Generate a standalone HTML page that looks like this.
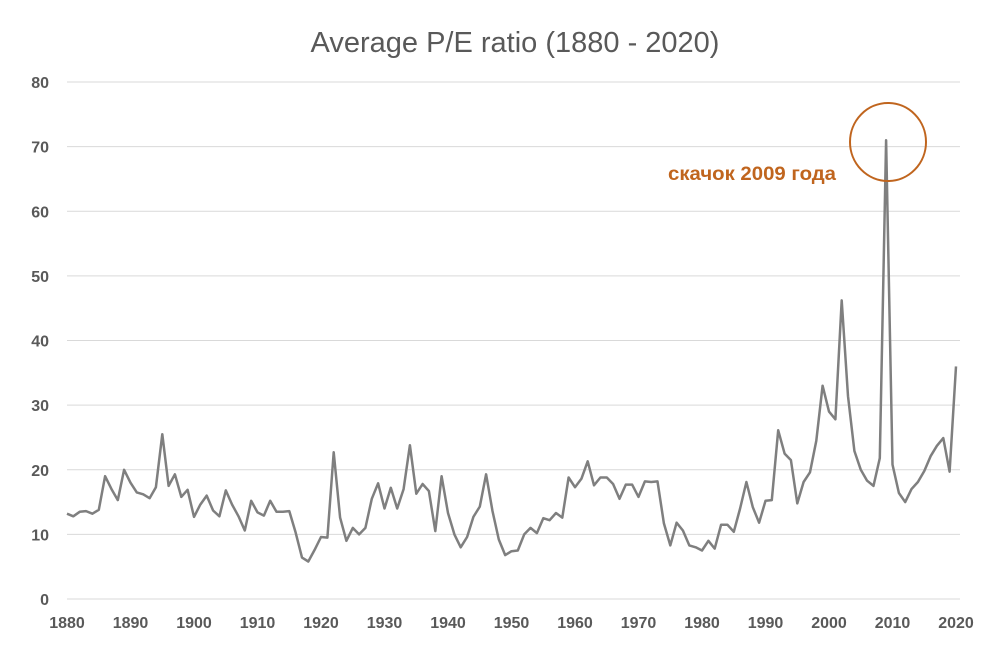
<!DOCTYPE html>
<html><head><meta charset="utf-8"><style>
body{margin:0;background:#fff;width:992px;height:660px;overflow:hidden}
svg text{font-family:"Liberation Sans","DejaVu Sans",sans-serif}
</style></head><body>
<svg id="chart" width="992" height="660" xmlns="http://www.w3.org/2000/svg">
<text x="515" y="52" text-anchor="middle" font-size="29" fill="#595959">Average P/E ratio (1880 - 2020)</text>
<g id="grid"></g><g id="yt"></g><g id="xt"></g><g id="series"></g>
<ellipse cx="888" cy="142" rx="38" ry="39" fill="none" stroke="#C0651E" stroke-width="2"/>
<text x="668" y="180" font-size="19" font-weight="bold" fill="#C0651E" textLength="168" lengthAdjust="spacingAndGlyphs">скачок 2009 года</text>
</svg>
<script>
const startYear = 1880;
const peValues = [13.2,12.8,13.5,13.6,13.2,13.8,19,17,15.3,20,18,16.5,16.2,15.6,17.3,25.5,17.5,19.3,15.8,16.9,
12.7,14.6,16,13.7,12.8,16.8,14.6,12.8,10.6,15.2,13.4,12.9,15.2,13.5,13.5,13.6,10.3,6.4,5.8,7.6,
9.6,9.5,22.7,12.6,9,11,10,11,15.5,17.9,14,17.2,14,17,23.8,16.3,17.8,16.7,10.5,19,
13.3,10,8,9.6,12.7,14.3,19.3,13.6,9.2,6.8,7.4,7.5,10,11,10.2,12.5,12.2,13.3,12.6,18.8,
17.3,18.6,21.3,17.6,18.8,18.8,17.8,15.5,17.7,17.7,15.8,18.2,18.1,18.2,11.7,8.3,11.8,10.6,8.3,8,
7.5,9,7.8,11.5,11.5,10.4,14,18.1,14.2,11.8,15.2,15.3,26.1,22.5,21.5,14.8,18.1,19.6,24.5,33,
29,27.8,46.2,31.4,22.9,20,18.3,17.5,21.8,71,20.8,16.4,15,17,18.1,19.8,22.1,23.7,24.9,19.7,36];
const yTicks = [0,10,20,30,40,50,60,70,80];
const xTicks = [1880,1890,1900,1910,1920,1930,1940,1950,1960,1970,1980,1990,2000,2010,2020];
const NS='http://www.w3.org/2000/svg';
const x0=67,x1=956,y0=599,y1=82;
const xs=yr=>x0+(yr-1880)/140*(x1-x0);
const ys=v=>y0-v/80*(y0-y1);
function mk(t,a,p){const e=document.createElementNS(NS,t);for(const k in a)e.setAttribute(k,a[k]);p.appendChild(e);return e;}
const g=document.getElementById('grid'),yt=document.getElementById('yt'),xt=document.getElementById('xt'),s=document.getElementById('series');
yTicks.forEach(v=>{
 const l=mk('line',{x1:x0,x2:x1+4,y1:ys(v),y2:ys(v),stroke:'#d9d9d9','stroke-width':1},g);
 
 
 const t=mk('text',{x:49,y:ys(v)+6,'text-anchor':'end','font-size':16,'font-weight':'bold',fill:'#595959'},yt);
 t.textContent=v;
 
 
});
xTicks.forEach(v=>{
 const t=mk('text',{x:xs(v),y:628,'text-anchor':'middle','font-size':16,'font-weight':'bold',fill:'#595959'},xt);
 t.textContent=v;
 
 
});
const pts=peValues.map((v,i)=>xs(startYear+i).toFixed(1)+','+ys(v).toFixed(1)).join(' ');
const pl=mk('polyline',{points:pts,fill:'none',stroke:'#7f7f7f','stroke-width':2.5,'stroke-linejoin':'round'},s);


</script>
</body></html>
